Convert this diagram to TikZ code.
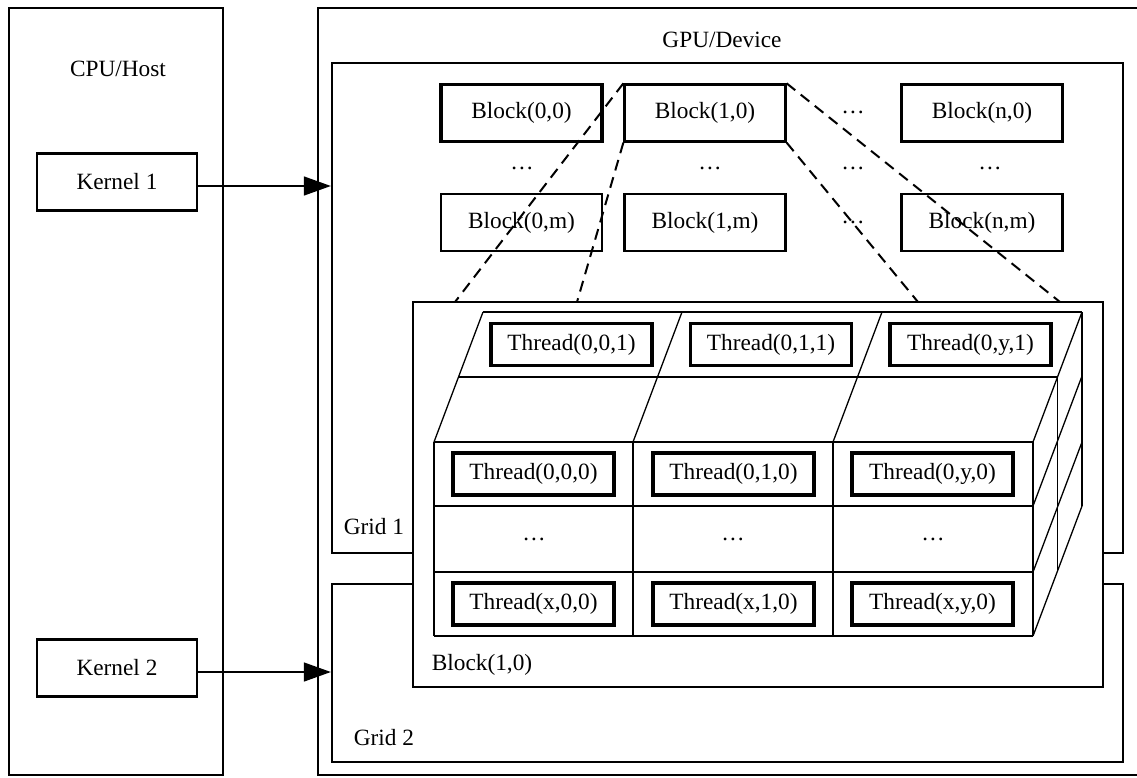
\documentclass[tikz,border=0pt]{standalone}
\usepackage{fontspec}
\setmainfont{Liberation Serif}
\usetikzlibrary{arrows.meta}
\begin{document}
\begin{tikzpicture}[x=1pt,y=-1pt,
  lbl/.style={font=\fontsize{23.3}{28}\selectfont, inner sep=0pt},
  frame/.style={draw, line width=2.3pt, inner sep=0pt},
  kbox/.style={draw, line width=2.2pt, minimum width=160pt, minimum height=57pt, inner sep=0pt, font=\fontsize{23.3}{28}\selectfont},
  bbox/.style={draw, line width=2.3pt, minimum width=161pt, minimum height=57pt, inner sep=0pt, font=\fontsize{23.3}{28}\selectfont},
  tbox/.style={draw, line width=3.2pt, minimum width=161pt, minimum height=42pt, inner sep=0pt, font=\fontsize{23.3}{28}\selectfont},
  cubeline/.style={line width=1.3pt},
  zoomline/.style={line width=2pt, dash pattern=on 11pt off 7pt},
  arr/.style={line width=1.4pt, -{Triangle[length=27pt,width=19pt]}}
]
\clip (0,0) rectangle (1137,777);
\fill[white] (0,0) rectangle (1137,777);

% CPU / Host
\node[frame, minimum width=214pt, minimum height=767pt] (cpu) at (116,391.5) {};
\node[lbl] (cpulbl) at (118,69) {CPU/Host};
\node[kbox] (k1) at (117,182) {Kernel 1};
\node[kbox] (k2) at (117,668) {Kernel 2};

% GPU / Device
\node[frame, minimum width=830pt, minimum height=767pt] (gpu) at (733,391.5) {};
\node[lbl] (gpulbl) at (722,40) {GPU/Device};
\node[frame, minimum width=791pt, minimum height=490pt] (grid1) at (727.5,308) {};
\node[frame, minimum width=791pt, minimum height=178pt] (grid2) at (727.5,673) {};
\node[lbl] (g1lbl) at (374,527) {Grid 1};
\node[lbl] (g2lbl) at (384,738) {Grid 2};

% arrows
\draw[arr] ([yshift=-4pt]k1.east) -- ([yshift=-4pt]k1.east -| grid1.west);
\draw[arr] ([yshift=-4pt]k2.east) -- ([yshift=-4pt]k2.east -| grid2.west);

% blocks
\node[bbox, line width=3.2pt] (b00) at (521.5,113) {Block(0,0)};
\node[bbox] (b10) at (705,113) {Block(1,0)};
\node[bbox] (bn0) at (982,113) {Block(n,0)};
\node[bbox] (b0m) at (521.5,222.5) {Block(0,m)};
\node[bbox] (b1m) at (705,222.5) {Block(1,m)};
\node[bbox] (bnm) at (982,222.5) {Block(n,m)};
\node[lbl] (dA) at (853,112) {…};
\node[lbl] (dB) at (522,168) {…};
\node[lbl] (dC) at (710,168) {…};
\node[lbl] (dD) at (853,168) {…};
\node[lbl] (dE) at (990,168) {…};
\node[lbl] (dF) at (853,222) {…};

% zoomed block
\node[frame, fill=white, minimum width=690pt, minimum height=385pt] (blk) at (758,494.5) {};
\node[lbl] (blklbl) at (482,665) {Block(1,0)};

\coordinate (z1) at (455,302);
\coordinate (z2) at (577,302);
\coordinate (z3) at (918,302);
\coordinate (z4) at (1060,302);
\draw[zoomline] (b10.north west) -- (z1);
\draw[zoomline] (b10.south west) -- (z2);
\draw[zoomline] (b10.south east) -- (z3);
\draw[zoomline] (b10.north east) -- (z4);

% cube of threads
\begin{scope}[cubeline]
  \foreach \y in {442,506,572,636} \draw (434,\y) -- (1033,\y);
  \foreach \x in {434,633,833,1033} \draw (\x,442) -- (\x,636);
  \draw (458.5,377) -- (1057.5,377);
  \draw (483,312) -- (1082,312);
  \foreach \x in {434,633,833,1033} \draw (\x,442) -- ++(49,-130);
  \foreach \y in {506,572,636} \draw (1033,\y) -- ++(49,-130);
  \draw (1057.5,377) -- (1057.5,571);
  \draw (1082,312) -- (1082,506);
\end{scope}

\node[tbox] (t001) at (571.5,344.5) {Thread(0,0,1)};
\node[tbox] (t011) at (771,344.5) {Thread(0,1,1)};
\node[tbox] (t0y1) at (970.5,344.5) {Thread(0,y,1)};
\node[tbox] (t000) at (533.5,474) {Thread(0,0,0)};
\node[tbox] (t010) at (733.5,474) {Thread(0,1,0)};
\node[tbox] (t0y0) at (932.5,474) {Thread(0,y,0)};
\node[lbl] (dG) at (534,539) {…};
\node[lbl] (dH) at (733,539) {…};
\node[lbl] (dI) at (933,539) {…};
\node[tbox] (tx00) at (533.5,604) {Thread(x,0,0)};
\node[tbox] (tx10) at (733.5,604) {Thread(x,1,0)};
\node[tbox] (txy0) at (932.5,604) {Thread(x,y,0)};
\end{tikzpicture}
\end{document}
